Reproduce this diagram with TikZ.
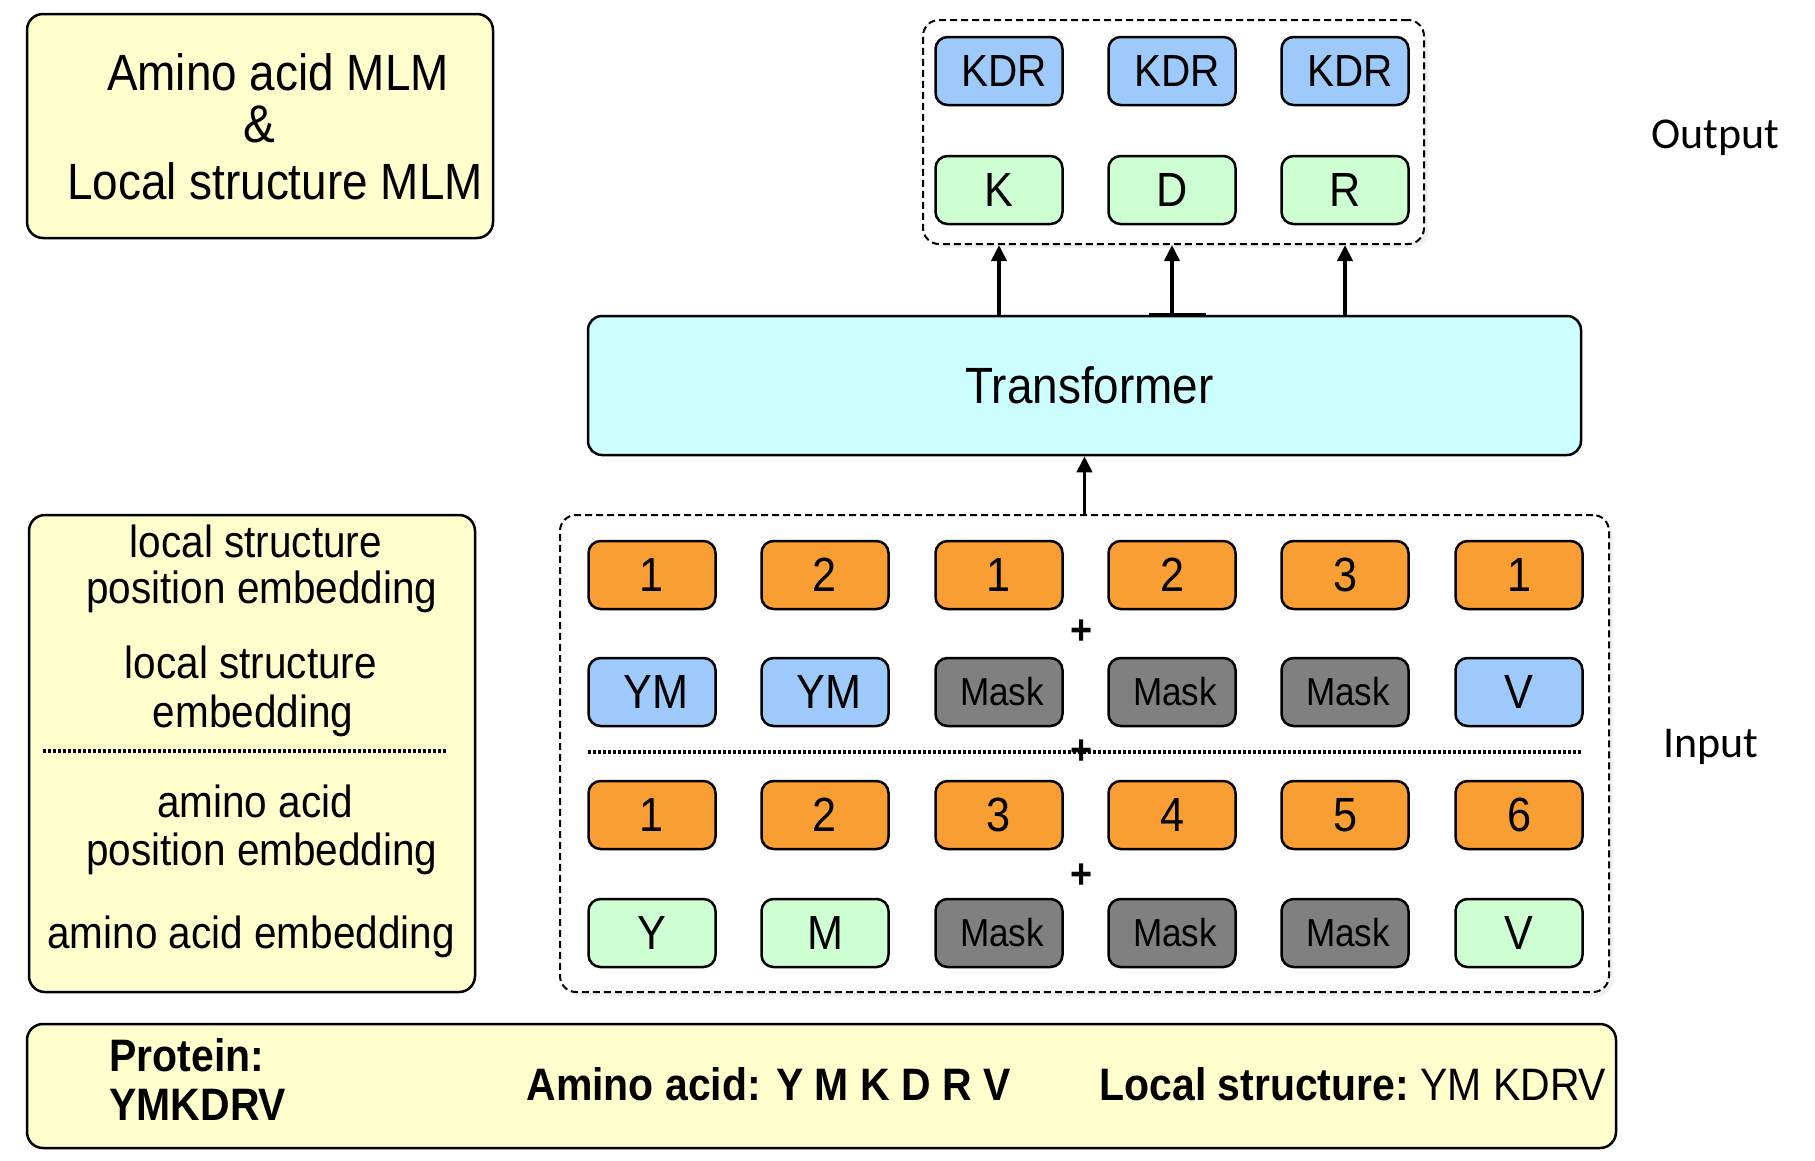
\documentclass[tikz,border=0pt]{standalone}
\usepackage{fontspec}
\setmainfont[FakeStretch=0.9]{Liberation Sans}
\newfontfamily\lblfont{Carlito}
\usetikzlibrary{arrows.meta,shadows}
\definecolor{ylw}{RGB}{255,255,206}
\definecolor{blu}{RGB}{157,202,250}
\definecolor{grn}{RGB}{206,255,210}
\definecolor{org}{RGB}{249,158,50}
\definecolor{gry}{RGB}{128,128,128}
\definecolor{cyn}{RGB}{206,255,255}
\begin{document}
\begin{tikzpicture}[x=1pt,y=-1pt,
  cell/.style={draw=black,line width=2.5pt,rounded corners=12pt,minimum width=127pt,minimum height=68pt,inner sep=0pt},
  bigtxt/.style={font=\fontsize{48}{52}\selectfont},
  midtxt/.style={font=\fontsize{45}{50}\selectfont},
  masktxt/.style={font=\fontsize{39}{44}\selectfont},
  posc/.style={cell,fill=org,bigtxt},
  lsc/.style={cell,fill=blu,bigtxt},
  aac/.style={cell,fill=grn,bigtxt},
  mskc/.style={cell,fill=gry,masktxt},
  kdrc/.style={cell,fill=blu,midtxt},
  panel/.style={draw=black,line width=2.5pt,rounded corners=16pt,inner sep=0pt},
  dashbox/.style={draw=black,line width=2pt,dash pattern=on 7pt off 4pt,rounded corners=16pt,inner sep=0pt,fill=white,
     drop shadow={opacity=0.12,shadow xshift=4pt,shadow yshift=-4pt}},
  arr/.style={line width=3.8pt,-{Triangle[length=16pt,width=15pt]}},
  lbl/.style={font=\fontsize{45}{50}\selectfont,anchor=base},
  btxt/.style={font=\fontsize{45.5}{50}\selectfont\bfseries,anchor=base west},
  plus/.style={font=\fontsize{42}{44}\selectfont\bfseries,inner sep=0pt}
]
\useasboundingbox (0,0) rectangle (1815,1160);

% top-left title panel
\node[panel,fill=ylw,minimum width=466pt,minimum height=224pt] (tl) at (260,126) {};
\node[font=\fontsize{51}{56}\selectfont,anchor=base] (tl1) at (278,90) {Amino acid MLM};
\node[font=\fontsize{53}{56}\selectfont,anchor=base] (tl2) at (259,142) {\&};
\node[font=\fontsize{51}{56}\selectfont,anchor=base] (tl3) at (275,199) {Local structure MLM};

% left legend panel
\node[panel,fill=ylw,minimum width=446pt,minimum height=477pt] (lb) at (252,753.5) {};
\node[lbl] (l1) at (256,557) {local structure};
\node[lbl] (l2) at (262,603) {position embedding};
\node[lbl] (l3) at (251,678) {local structure};
\node[lbl] (l4) at (253,727) {embedding};
\coordinate (ld1) at (43,751);
\coordinate (ld2) at (447,751);
\draw[line width=3.5pt,dash pattern=on 3pt off 2pt] (ld1) -- (ld2);
\node[lbl] (l5) at (255,817) {amino acid};
\node[lbl] (l6) at (262,865) {position embedding};
\node[lbl] (l7) at (251,948) {amino acid embedding};

% bottom panel
\node[panel,fill=ylw,minimum width=1589pt,minimum height=124pt] (bb) at (821.5,1086) {};
\node[btxt] (b1) at (106,1071) {Protein:};
\node[btxt] (b2) at (106,1120) {YMKDRV};
\node[btxt] (b3) at (523,1100) {Amino acid: Y M K D R V};
\node[btxt] (b4) at (1096,1100) {Local structure:\mdseries\ YM KDRV};

% output box
\node[dashbox,minimum width=501pt,minimum height=224pt] (ob) at (1173.5,132) {};
\node[kdrc] (o1) at (999,71) {\hspace*{10pt}KDR};
\node[kdrc] (o2) at (1172,71) {\hspace*{10pt}KDR};
\node[kdrc] (o3) at (1345,71) {\hspace*{10pt}KDR};
\node[aac] (g1) at (999,190) {K};
\node[aac] (g2) at (1172,190) {D};
\node[aac] (g3) at (1345,190) {R};

% transformer
\node[panel,fill=cyn,minimum width=993pt,minimum height=139pt,rounded corners=14pt,font=\fontsize{51}{56}\selectfont] (tr) at (1084.5,385.5) {\hspace*{10pt}Transformer};
\draw[line width=4.5pt] ([xshift=-23pt]tr.north -| g2) -- ([xshift=34pt]tr.north -| g2);

% input box
\node[dashbox,minimum width=1049pt,minimum height=477pt] (ib) at (1084.5,753.5) {};
% row 1: local structure positions
\node[posc] (p1) at (652,575) {1};
\node[posc] (p2) at (825,575) {2};
\node[posc] (p3) at (999,575) {1};
\node[posc] (p4) at (1172,575) {2};
\node[posc] (p5) at (1345,575) {3};
\node[posc] (p6) at (1519,575) {1};
% row 2: local structure tokens
\node[lsc] (s1) at (652,692) {\hspace*{8pt}YM};
\node[lsc] (s2) at (825,692) {\hspace*{8pt}YM};
\node[mskc] (s3) at (999,692) {\hspace*{6pt}Mask};
\node[mskc] (s4) at (1172,692) {\hspace*{6pt}Mask};
\node[mskc] (s5) at (1345,692) {\hspace*{6pt}Mask};
\node[lsc] (s6) at (1519,692) {V};
% dotted separator
\coordinate (dd1) at (588,752);
\coordinate (dd2) at (1582,752);
\draw[line width=3.5pt,dash pattern=on 3pt off 2pt] (dd1) -- (dd2);
% row 3: amino acid positions
\node[posc] (q1) at (652,815) {1};
\node[posc] (q2) at (825,815) {2};
\node[posc] (q3) at (999,815) {3};
\node[posc] (q4) at (1172,815) {4};
\node[posc] (q5) at (1345,815) {5};
\node[posc] (q6) at (1519,815) {6};
% row 4: amino acid tokens
\node[aac] (a1) at (652,933) {Y};
\node[aac] (a2) at (825,933) {M};
\node[mskc] (a3) at (999,933) {\hspace*{6pt}Mask};
\node[mskc] (a4) at (1172,933) {\hspace*{6pt}Mask};
\node[mskc] (a5) at (1345,933) {\hspace*{6pt}Mask};
\node[aac] (a6) at (1519,933) {V};
% plus signs
\node[plus] (pl1) at (1082,632) {+};
\node[plus] (pl2) at (1082,752) {+};
\node[plus] (pl3) at (1082,876) {+};

% arrows
\draw[arr] (ib.north) -- (tr.south);
\draw[arr] (tr.north -| g1) -- (ob.south -| g1);
\draw[arr] (tr.north -| g2) -- (ob.south -| g2);
\draw[arr] (tr.north -| g3) -- (ob.south -| g3);

% side labels
\node[font=\lblfont\fontsize{44}{48}\selectfont] (outl) at (1715,138) {Output};
\node[font=\lblfont\fontsize{44}{48}\selectfont] (inl) at (1711,747) {Input};
\end{tikzpicture}
\end{document}
